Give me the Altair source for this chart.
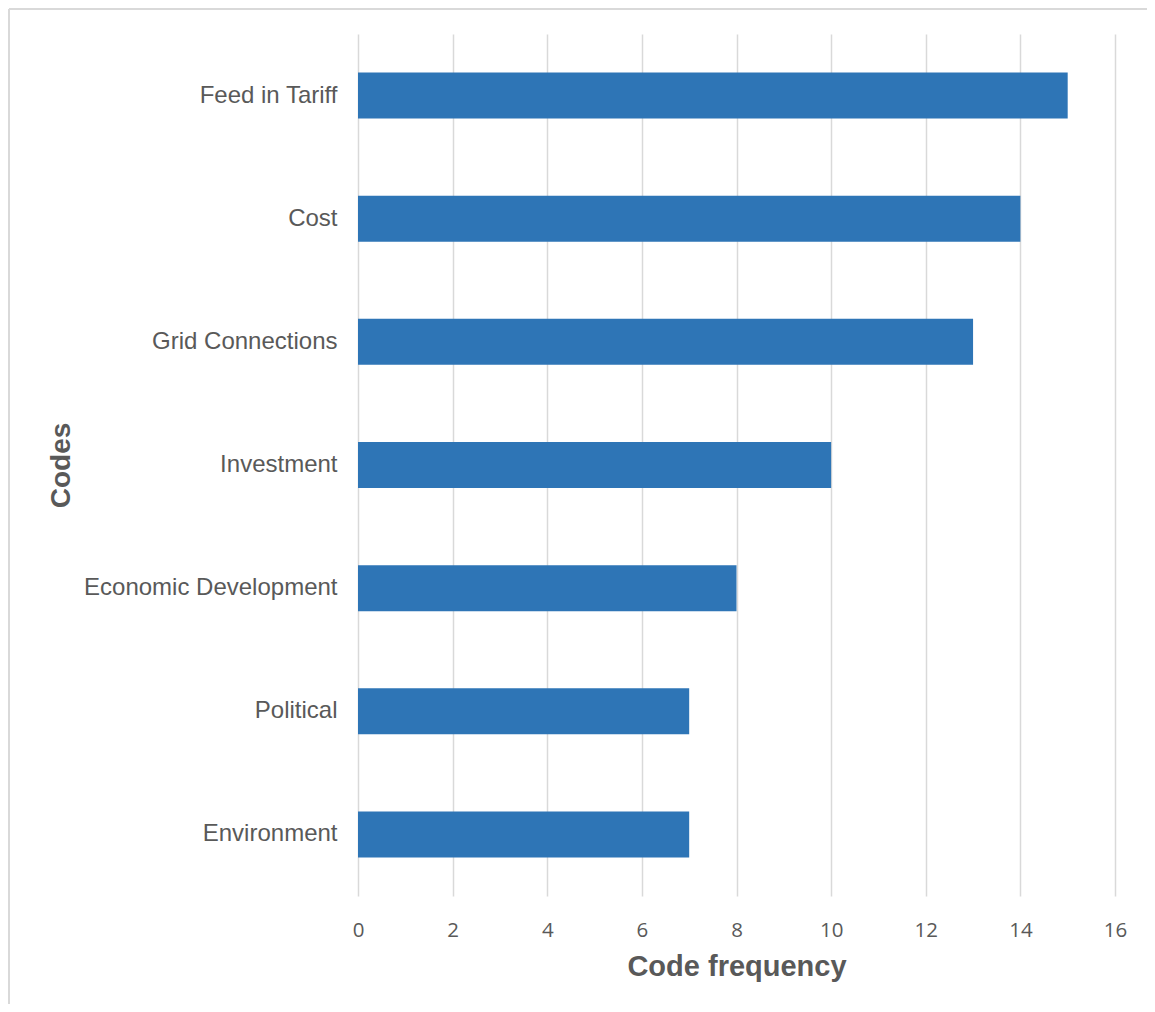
import altair as alt
import pandas as pd

codes = ["Feed in Tariff", "Cost", "Grid Connections", "Investment",
         "Economic Development", "Political", "Environment"]
frequency = [15, 14, 13, 10, 8, 7, 7]
x_ticks = [0, 2, 4, 6, 8, 10, 12, 14, 16]

df = pd.DataFrame({"code": codes, "freq": frequency})

W, H = 757, 862

bars = alt.Chart(df).mark_bar(color="#2E75B6").encode(
    x=alt.X("freq:Q",
            scale=alt.Scale(domain=[0, 16], nice=False, zero=True),
            axis=alt.Axis(values=x_ticks, title="Code frequency",
                          grid=True, gridColor="#d9d9d9", gridWidth=1.5,
                          domain=False, ticks=False, tickSize=0,
                          labelFlush=False,
                          labelFont="Open Sans", labelFontSize=20.5,
                          labelColor="#595959", labelPadding=40,
                          labelBaseline="alphabetic",
                          titleFont="Liberation Sans", titleFontSize=29,
                          titleFontWeight="bold", titleColor="#595959",
                          titleX=W / 2, titleY=79, titleBaseline="alphabetic",
                          titleAlign="center")),
    y=alt.Y("code:N", sort=codes,
            scale=alt.Scale(paddingInner=0.6265, paddingOuter=0.313),
            axis=alt.Axis(title="Codes", domain=False, ticks=False, tickSize=0,
                          grid=False,
                          labelFont="Liberation Sans", labelFontSize=24,
                          labelColor="#595959", labelPadding=21,
                          labelLimit=400,
                          titleFont="Liberation Sans", titleFontSize=28,
                          titleFontWeight="bold", titleColor="#595959",
                          titleX=-289, titleY=H / 2, titleAngle=270,
                          titleBaseline="alphabetic", titleAlign="center")),
)

top_border = alt.Chart(df).mark_rule(color="#d9d9d9", strokeWidth=1.5).encode(
    x=alt.value(-349), x2=alt.value(1200), y=alt.value(-25),
)
left_border = alt.Chart(df).mark_rule(color="#d9d9d9", strokeWidth=1.5).encode(
    x=alt.value(-349), y=alt.value(-25), y2=alt.value(1200),
)

chart = alt.layer(top_border, left_border, bars).properties(
    width=W, height=H,
    autosize=alt.AutoSizeParams(type="none"),
    padding={"left": 350, "top": 26, "right": 32, "bottom": 108},
).configure_view(stroke=None)

chart.save("out.html", embed_options={"renderer": "svg", "actions": False})
